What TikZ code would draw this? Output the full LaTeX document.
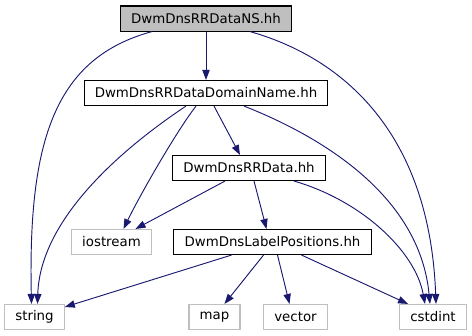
\documentclass[tikz,border=0pt]{standalone}
\usepackage{fontspec}
\setmainfont{DejaVu Sans}
\definecolor{edgeblue}{HTML}{191970}
\definecolor{sysgray}{HTML}{BFBFBF}
\usetikzlibrary{arrows.meta,calc}
\begin{document}
\begin{tikzpicture}[
  x=0.75pt, y=-0.75pt,
  hdr/.style={rectangle, draw=black, fill=white, line width=0.8pt, minimum height=18.8pt, minimum width=38pt, inner xsep=8pt, font=\fontsize{10}{12}\selectfont},
  sys/.style={hdr, draw=sysgray},
  top/.style={hdr, fill=sysgray},
  dep/.style={draw=edgeblue, line width=0.7pt, -{Triangle[length=7.5pt,width=5.5pt]}},
]
\useasboundingbox (0,0) rectangle (472,336);
\node[top] (ns) at (206,18.5) {DwmDnsRRDataNS.hh};
\node[hdr] (domain) at (206,93) {DwmDnsRRDataDomainName.hh};
\node[hdr] (rrdata) at (249,168) {DwmDnsRRData.hh};
\node[sys] (iostream) at (111.5,242) {iostream};
\node[hdr] (labelpos) at (272.5,242) {DwmDnsLabelPositions.hh};
\node[sys] (string) at (34.5,317) {string};
\node[sys] (map) at (214.5,317) {map};
\node[sys] (vector) at (295.5,317) {vector};
\node[sys] (cstdint) at (433,317) {cstdint};
% edges from the top file
\draw[dep] (ns) -- (domain);
\draw[dep] ($(ns.south)+(-54,0)$) .. controls (55,58) and (28,140) .. ($(string.north)+(-3,0)$);
\draw[dep] ($(ns.south)+(44,0)$) .. controls (350,60) and (430,140) .. ($(cstdint.north)+(3,0)$);
% edges from DwmDnsRRDataDomainName.hh
\draw[dep] ($(domain.south)+(-20,0)$) .. controls (120,150) and (40,220) .. ($(string.north)+(3,0)$);
\draw[dep] ($(domain.south)+(-10,0)$) .. controls (176,132) and (140,195) .. ($(iostream.north)+(12,0)$);
\draw[dep] ($(domain.south)+(8,0)$) -- ($(rrdata.north)+(-9,0)$);
\draw[dep] ($(domain.south)+(38,0)$) .. controls (330,140) and (420,200) .. ($(cstdint.north)+(-3,0)$);
% edges from DwmDnsRRData.hh
\draw[dep] ($(rrdata.south)+(-24,0)$) -- ($(iostream.north)+(24,0)$);
\draw[dep] ($(rrdata.south)+(5,0)$) -- ($(labelpos.north)+(-6,0)$);
\draw[dep] ($(rrdata.south)+(45,0)$) .. controls (360,200) and (415,250) .. ($(cstdint.north)+(-8,0)$);
% edges from DwmDnsLabelPositions.hh
\draw[dep] ($(labelpos.south)+(-41,0)$) -- ($(string.east)+(0,-10)$);
\draw[dep] ($(labelpos.south)+(-9,0)$) -- ($(map.north)+(10,0)$);
\draw[dep] ($(labelpos.south)+(5,0)$) -- ($(vector.north)+(-6,0)$);
\draw[dep] ($(labelpos.south)+(29,0)$) -- ($(cstdint.north)+(-25,0)$);
\end{tikzpicture}
\end{document}
